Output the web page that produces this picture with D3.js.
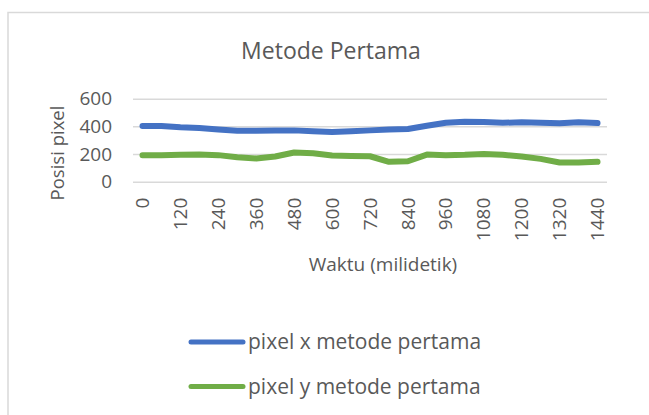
<!DOCTYPE html>
<html>
<head>
<meta charset="utf-8">
<script src="https://cdn.jsdelivr.net/npm/d3@7"></script>
<style>
  body { margin: 0; background: #fff; }
  text { font-family: "Open Sans", sans-serif; fill: #595959; }
</style>
</head>
<body>
<div id="chart"></div>
<script>
// data
var waktu = d3.range(0, 1441, 60);
var pixelX = [402, 402, 393, 388, 378, 369, 369, 371, 371, 364, 359, 364, 371,
  378, 381, 405, 426, 434, 431, 426, 429, 426, 422, 429, 424];
var pixelY = [192, 192, 194, 196, 192, 177, 168, 182, 211, 206, 189, 185, 184,
  144, 148, 196, 192, 194, 201, 194, 182, 165, 139, 139, 144];
var yTicks = [0, 200, 400, 600];
var seriesNames = ["pixel x metode pertama", "pixel y metode pertama"];
var colors = ["#4472C4", "#70AD47"];

var W = 649, H = 415;
var plot = { left: 133, right: 607, top: 98.7, bottom: 181.7 };

var svg = d3.select("#chart").append("svg")
  .attr("width", W).attr("height", H);

// chart border (runs off the picture right and bottom)
svg.append("rect")
  .attr("x", 8).attr("y", 12.5)
  .attr("width", 700).attr("height", 450)
  .attr("fill", "none").attr("stroke", "#d9d9d9").attr("stroke-width", 1.5);

var x = d3.scaleBand().domain(waktu).range([plot.left, plot.right]);
var y = d3.scaleLinear().domain([0, 600]).range([plot.bottom, plot.top]);

// gridlines + y labels
var yAxis = svg.append("g")
  .attr("transform", "translate(" + plot.left + ",0)")
  .call(d3.axisLeft(y).tickValues(yTicks)
    .tickSize(-(plot.right - plot.left)).tickPadding(21));
yAxis.select(".domain").remove();
yAxis.selectAll("line").attr("stroke", "#d9d9d9").attr("stroke-width", 1.5);
yAxis.selectAll("text").style("font-size", "19px")
  .style("font-family", "'Open Sans', sans-serif").attr("fill", "#595959");

// x labels, every other one, rotated
var xAxis = svg.append("g")
  .attr("transform", "translate(0," + plot.bottom + ")")
  .call(d3.axisBottom(x).tickValues(waktu.filter(function (d, i) { return i % 2 === 0; }))
    .tickSize(0));
xAxis.select(".domain").remove();
xAxis.selectAll("text")
  .style("font-size", "19px")
  .style("font-family", "'Open Sans', sans-serif")
  .attr("fill", "#595959")
  .attr("text-anchor", "end")
  .attr("dy", "0.35em")
  .attr("y", 0)
  .attr("transform", "translate(0,16) rotate(-90)");

// lines
var line = d3.line()
  .x(function (d, i) { return x(waktu[i]) + x.bandwidth() / 2; })
  .y(function (d) { return y(d); });

[pixelX, pixelY].forEach(function (s, k) {
  svg.append("path")
    .datum(s)
    .attr("d", line)
    .attr("fill", "none")
    .attr("stroke", colors[k])
    .attr("stroke-width", 6)
    .attr("stroke-linejoin", "round")
    .attr("stroke-linecap", "round");
});

// title
svg.append("text")
  .attr("x", 331).attr("y", 58.5)
  .attr("text-anchor", "middle")
  .style("font-size", "23px")
  .text("Metode Pertama");

// axis titles
svg.append("text")
  .attr("transform", "translate(64,153) rotate(-90)")
  .attr("text-anchor", "middle")
  .style("font-size", "18.5px")
  .text("Posisi pixel");

svg.append("text")
  .attr("x", 383).attr("y", 271)
  .attr("text-anchor", "middle")
  .style("font-size", "19px")
  .text("Waktu (milidetik)");

// legend
var legend = svg.selectAll(".legend")
  .data(seriesNames)
  .enter().append("g")
  .attr("class", "legend")
  .attr("transform", function (d, i) { return "translate(190," + (342 + i * 44.5) + ")"; });

legend.append("line")
  .attr("x1", 1).attr("x2", 53)
  .attr("stroke", function (d, i) { return colors[i]; })
  .attr("stroke-width", 5)
  .attr("stroke-linecap", "round");

legend.append("text")
  .attr("x", 58).attr("dy", "0.35em")
  .style("font-size", "21px")
  .text(function (d) { return d; });
</script>
</body>
</html>
